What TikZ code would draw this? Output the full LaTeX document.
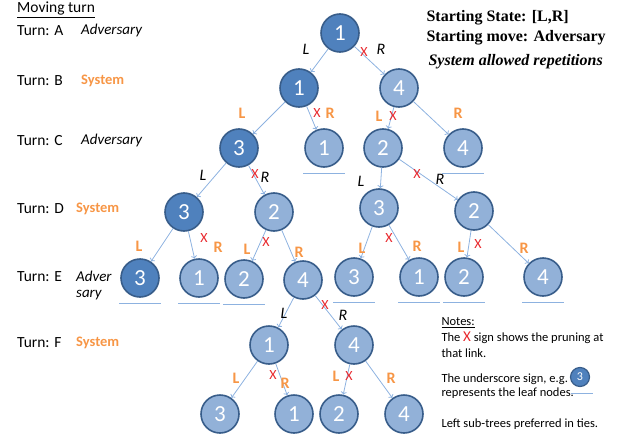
\documentclass[tikz,border=0pt]{standalone}
\usepackage{fontspec}
\setmainfont{Carlito}
\newfontfamily\headfont{Liberation Serif}
\usetikzlibrary{calc,arrows.meta,positioning}
\definecolor{darknode}{RGB}{79,129,189}
\definecolor{lightnode}{RGB}{146,177,216}
\definecolor{ringblue}{RGB}{56,93,138}
\definecolor{linkblue}{RGB}{141,178,224}
\definecolor{sysorange}{RGB}{247,150,70}
\definecolor{prunered}{RGB}{232,40,45}

\begin{document}
\begin{tikzpicture}[x=1pt,y=-1pt,
    state/.style={circle, draw=ringblue, line width=1.6pt, fill=lightnode, text=white,
      minimum size=38pt, inner sep=0pt, font=\fontsize{23}{23}\selectfont},
    won/.style={state, fill=darknode},
    link/.style={draw=linkblue, line width=0.8pt, -{To[length=3pt,width=6pt]}},
    leafbar/.style={draw=linkblue, line width=0.9pt},
    advlab/.style={font=\fontsize{16}{16}\selectfont\itshape},
    syslab/.style={text=sysorange, font=\fontsize{16}{16}\selectfont\bfseries},
    cut/.style={text=prunered, font=\fontsize{14}{14}\selectfont},
    turn/.style={anchor=west, inner sep=1pt, font=\fontsize{15.5}{15.5}\selectfont},
    advturn/.style={turn, font=\fontsize{15}{15}\selectfont\itshape},
    systurn/.style={turn, text=sysorange, font=\fontsize{14.5}{14.5}\selectfont\bfseries},
    head/.style={anchor=west, font=\headfont\bfseries\fontsize{16}{16}\selectfont},
    note/.style={anchor=west, font=\fontsize{12.5}{12.5}\selectfont},
  ]
    \useasboundingbox (0,0) rectangle (617,441);

    \node[turn] (mt) at (16,10) {\underline{Moving turn}};
    \node[turn] (ta) at (16,31) {Turn: A};
    \node[advturn] (pa) at (80,31) {Adversary};
    \node[turn] (tb) at (16,81) {Turn: B};
    \node[systurn] (pb) at (80,81) {System};
    \node[turn] (tc) at (16,141) {Turn: C};
    \node[advturn] (pc) at (80,141) {Adversary};
    \node[turn] (td) at (16,209) {Turn: D};
    \node[systurn] (pd) at (75,209) {System};
    \node[turn] (te) at (16,277) {Turn: E};
    \node[advturn] (pe) at (75,276) {Adver};
    \node[advturn] (pe2) at (75,295) {sary};
    \node[turn] (tf) at (16,343) {Turn: F};
    \node[systurn] (pf) at (75,343) {System};

    \node[head] (st) at (423,18) {Starting State: [L,R]};
    \node[head] (sm) at (423,38) {Starting move: Adversary};
    \node[head, font=\headfont\bfseries\itshape\fontsize{16}{16}\selectfont] (sr) at (425,62) {System allowed repetitions};

    \node[won] (a) at (340,33) {1};
    \node[won] (b1) at (299,88) {1};
    \node[state] (b2) at (399,88) {4};
    \node[won] (c1) at (239,148) {3};
    \node[state] (c2) at (324,148) {1};
    \node[state] (c3) at (383,148) {2};
    \node[state] (c4) at (463,148) {4};
    \node[won] (d1) at (184,212) {3};
    \node[state] (d2) at (274,212) {2};
    \node[state] (d3) at (379,208) {3};
    \node[state] (d4) at (474,211) {2};
    \node[won] (e1) at (140,278) {3};
    \node[state] (e2) at (199,278) {1};
    \node[state] (e3) at (244,279) {2};
    \node[state] (e4) at (303,280) {4};
    \node[state] (e5) at (354,277) {3};
    \node[state] (e6) at (419,277) {1};
    \node[state] (e7) at (464,277) {2};
    \node[state] (e8) at (543,277) {4};
    \node[state] (f1) at (269,345) {1};
    \node[state] (f2) at (354,345) {4};
    \node[state] (g1) at (220,414) {3};
    \node[state] (g2) at (294,414) {1};
    \node[state] (g3) at (339,414) {2};
    \node[state] (g4) at (404,414) {4};

    \foreach \p/\c in {a/b1,a/b2,b1/c1,b1/c2,b2/c3,b2/c4,c1/d1,c1/d2,c3/d3,c3/d4,
        d1/e1,d1/e2,d2/e3,d2/e4,d3/e5,d3/e6,d4/e7,d4/e8,e4/f1,e4/f2,f1/g1,f1/g2,f2/g3,f2/g4}
      \draw[link] (\p) -- (\c);

    \foreach \n in {c2,c4,e1,e2,e3,e5,e6,e7,e8}
      \draw[leafbar] ($(\n)+(-21,25)$) -- ($(\n)+(21,25)$);

    \foreach \p/\lx/\ly/\rx/\ry in {a/-34/16/41/16, c1/-36/27/26/29, c3/-22/33/57/31, e4/-19/33/40/35} {
      \node[advlab] (\p L) at ($(\p)+(\lx,\ly)$) {L};
      \node[advlab] (\p R) at ($(\p)+(\rx,\ry)$) {R};
    }
    \foreach \p/\lx/\ly/\rx/\ry in {b1/-57/25/31/25, b2/-20/28/59/25, d1/-45/34/34/35, d2/-27/37/25/40,
        d3/-17/40/38/38, d4/-13/36/50/37, f1/-33/33/16/38, f2/-18/31/37/33} {
      \node[syslab] (\p L) at ($(\p)+(\lx,\ly)$) {L};
      \node[syslab] (\p R) at ($(\p)+(\rx,\ry)$) {R};
    }
    \foreach \p/\dx/\dy in {a/24/19, b1/18/25, b2/-6/28, c1/16/26, c3/34/26, d1/20/26, d2/-8/30,
        d3/10/30, d4/4/33, e4/22/25, f1/4/30, f2/-5/31}
      \node[cut] (x\p) at ($(\p)+(\dx,\dy)$) {X};

    \node[note] (n0) at (438,323) {\underline{Notes:}};
    \node[note] (n1) at (438,338) {The {\color{prunered}\fontsize{15}{15}\selectfont X} sign shows the pruning at};
    \node[note] (n2) at (438,353) {that link.};
    \node[note] (n3) at (438,379) {The underscore sign, e.g.};
    \node[note] (n4) at (438,393) {represents the leaf nodes.};
    \node[note] (n5) at (438,424) {Left sub-trees preferred in ties.};
    \node[won, minimum size=19pt, line width=1.2pt, font=\fontsize{12}{12}\selectfont] (eg) at (580,377) {3};
    \draw[leafbar] ($(eg)+(-9,16)$) -- ($(eg)+(13,16)$);
\end{tikzpicture}
\end{document}
